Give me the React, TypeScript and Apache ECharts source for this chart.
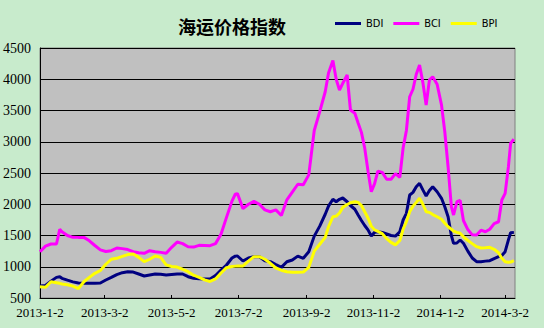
import React, { useEffect, useRef } from "react";
import * as echarts from "echarts";

const title = "海运价格指数";
const seriesNames = ["BDI", "BCI", "BPI"];

const dates = [
  "2013-01-02", "2013-01-07", "2013-01-12", "2013-01-17", "2013-01-20", "2013-01-22", "2013-01-27", "2013-02-01", "2013-02-06", "2013-02-11",
  "2013-02-16", "2013-02-21", "2013-02-26", "2013-03-03", "2013-03-08", "2013-03-13", "2013-03-18", "2013-03-23", "2013-03-28", "2013-04-02",
  "2013-04-07", "2013-04-12", "2013-04-17", "2013-04-22", "2013-04-27", "2013-05-02", "2013-05-07", "2013-05-12", "2013-05-17", "2013-05-22",
  "2013-05-27", "2013-06-01", "2013-06-06", "2013-06-11", "2013-06-16", "2013-06-21", "2013-06-26", "2013-06-29", "2013-07-01", "2013-07-06",
  "2013-07-11", "2013-07-16", "2013-07-21", "2013-07-26", "2013-07-31", "2013-08-05", "2013-08-10", "2013-08-15", "2013-08-20", "2013-08-25",
  "2013-08-30", "2013-09-04", "2013-09-09", "2013-09-14", "2013-09-19", "2013-09-22", "2013-09-26", "2013-09-29", "2013-10-02", "2013-10-05",
  "2013-10-09", "2013-10-12", "2013-10-16", "2013-10-19", "2013-10-22", "2013-10-25", "2013-10-28", "2013-10-31", "2013-11-03", "2013-11-06",
  "2013-11-10", "2013-11-14", "2013-11-18", "2013-11-22", "2013-11-26", "2013-11-29", "2013-12-02", "2013-12-05", "2013-12-08", "2013-12-11",
  "2013-12-14", "2013-12-17", "2013-12-20", "2013-12-23", "2013-12-26", "2013-12-30", "2014-01-03", "2014-01-06", "2014-01-09", "2014-01-12",
  "2014-01-14", "2014-01-17", "2014-01-20", "2014-01-23", "2014-01-27", "2014-01-31", "2014-02-04", "2014-02-08", "2014-02-12", "2014-02-16",
  "2014-02-20", "2014-02-24", "2014-02-27", "2014-03-02", "2014-03-05", "2014-03-07", "2014-03-10",
];

const bdi = [
  692, 700, 770, 830, 841, 815, 785, 758, 740, 735,
  735, 735, 740, 788, 830, 875, 905, 921, 915, 884,
  852, 868, 884, 880, 868, 876, 884, 884, 841, 815,
  806, 804, 804, 860, 945, 1028, 1140, 1170, 1172, 1092,
  1140, 1161, 1160, 1095, 1081, 1035, 990, 1080, 1108, 1170,
  1135, 1240, 1490, 1650, 1840, 1970, 2080, 2040, 2079, 2100,
  2040, 1980, 1920, 1828, 1740, 1660, 1590, 1492, 1550, 1561,
  1550, 1525, 1500, 1490, 1561, 1748, 1855, 2148, 2190, 2280,
  2335, 2230, 2132, 2220, 2281, 2200, 2095, 1961, 1801, 1500,
  1375, 1380, 1428, 1375, 1250, 1140, 1081, 1081, 1090, 1097,
  1130, 1161, 1180, 1241, 1430, 1545, 1550,
];

const bci = [
  1241, 1330, 1364, 1364, 1599, 1560, 1500, 1471, 1470, 1470,
  1415, 1340, 1270, 1245, 1257, 1300, 1290, 1275, 1241, 1225,
  1215, 1257, 1241, 1230, 1215, 1311, 1395, 1370, 1320, 1315,
  1343, 1340, 1337, 1370, 1520, 1790, 2050, 2160, 2170, 1930,
  2000, 2045, 2000, 1910, 1880, 1910, 1820, 2070, 2195, 2320,
  2313, 2470, 3180, 3481, 3800, 4100, 4300, 4000, 3828, 3935,
  4068, 3508, 3455, 3300, 3150, 2900, 2530, 2200, 2330, 2530,
  2510, 2400, 2400, 2490, 2430, 2900, 3180, 3720, 3840, 4080,
  4228, 3950, 3588, 3990, 4040, 3920, 3590, 3160, 2600, 1961,
  1828, 2040, 2060, 1740, 1595, 1510, 1508, 1585, 1560, 1600,
  1690, 1720, 2068, 2175, 2601, 2975, 3039,
];

const bpi = [
  681, 671, 761, 745, 735, 724, 712, 690, 649, 760,
  830, 895, 940, 1040, 1120, 1135, 1165, 1195, 1204, 1150,
  1081, 1120, 1172, 1150, 1030, 1005, 995, 960, 921, 865,
  830, 790, 765, 805, 900, 985, 1005, 1010, 1012, 1012,
  1090, 1161, 1161, 1120, 1055, 980, 945, 920, 911, 911,
  915, 990, 1250, 1360, 1470, 1640, 1800, 1810, 1860, 1950,
  1995, 2025, 2041, 2030, 1980, 1880, 1780, 1650, 1590, 1565,
  1530, 1450, 1390, 1350, 1420, 1600, 1720, 1880, 1970, 2030,
  2095, 2000, 1881, 1870, 1835, 1800, 1760, 1695, 1640, 1600,
  1570, 1550, 1535, 1480, 1420, 1370, 1321, 1300, 1305, 1311,
  1279, 1225, 1135, 1080, 1071, 1075, 1097,
];

const xTickLabels = ["2013-1-2", "2013-3-2", "2013-5-2", "2013-7-2", "2013-9-2", "2013-11-2", "2014-1-2", "2014-3-2"];
const xMin = "2013-1-2";
const xMax = "2014-3-11";

const parseDate = (s: string) => {
  const [y, m, d] = s.split("-").map(Number);
  return Date.UTC(y, m - 1, d);
};
const fmtDate = (v: number) => {
  const d = new Date(v);
  return `${d.getUTCFullYear()}-${d.getUTCMonth() + 1}-${d.getUTCDate()}`;
};

const colors = ["#000080", "#ff00ff", "#ffff00"];
const serif = "'Liberation Serif', 'Times New Roman', serif";

export default function App() {
  const ref = useRef<HTMLDivElement>(null);
  useEffect(() => {
    if (!ref.current) return;
    const chart = echarts.init(ref.current, null, { renderer: "svg" });
    const tickVals = xTickLabels.map(parseDate);
    const values = [bdi, bci, bpi];
    chart.setOption({
      animation: false,
      backgroundColor: "#c8ebcc",
      title: {
        text: title,
        left: 173,
        top: 12,
        textStyle: {
          fontSize: 18,
          fontWeight: "bold",
          color: "#000",
          fontFamily: "'Noto Sans CJK SC', sans-serif",
        },
      },
      legend: {
        data: seriesNames,
        left: 330,
        top: 13,
        icon: "rect",
        itemWidth: 26,
        itemHeight: 3,
        itemGap: 10,
        textStyle: {
          fontSize: 11,
          color: "#000",
          fontFamily: "'Liberation Sans Narrow', 'DejaVu Sans Condensed', sans-serif",
        },
      },
      grid: {
        left: 40,
        right: 29,
        top: 48,
        bottom: 30,
        containLabel: false,
        show: true,
        backgroundColor: "#c0c0c0",
        borderColor: "#808080",
        borderWidth: 1,
      },
      xAxis: {
        type: "value",
        min: parseDate(xMin),
        max: parseDate(xMax),
        axisLine: { show: true, lineStyle: { color: "#000", width: 1 } },
        axisTick: {
          show: true,
          inside: true,
          length: 3,
          customValues: tickVals,
          lineStyle: { color: "#000" },
        },
        axisLabel: {
          customValues: tickVals,
          formatter: (v: number) => fmtDate(v),
          fontSize: 13,
          color: "#000",
          fontFamily: serif,
          margin: 8,
        },
        splitLine: { show: false },
      },
      yAxis: {
        type: "value",
        min: 500,
        max: 4500,
        interval: 500,
        axisLine: { show: true, lineStyle: { color: "#000", width: 1 } },
        axisTick: { show: false },
        axisLabel: {
          fontSize: 14,
          color: "#000",
          fontFamily: serif,
          margin: 9,
          formatter: (v: number) => String(v),
        },
        splitLine: { show: true, lineStyle: { color: "#000", width: 1 } },
      },
      series: seriesNames.map((name, k) => ({
        name,
        type: "line",
        showSymbol: false,
        symbol: "none",
        color: colors[k],
        lineStyle: { width: 3, color: colors[k] },
        data: dates.map((d, i) => [parseDate(d), values[k][i]]),
      })),
    });
    return () => chart.dispose();
  }, []);
  return (
    <div
      ref={ref}
      style={{ position: "fixed", left: 0, top: 0, width: 544, height: 328 }}
    />
  );
}
